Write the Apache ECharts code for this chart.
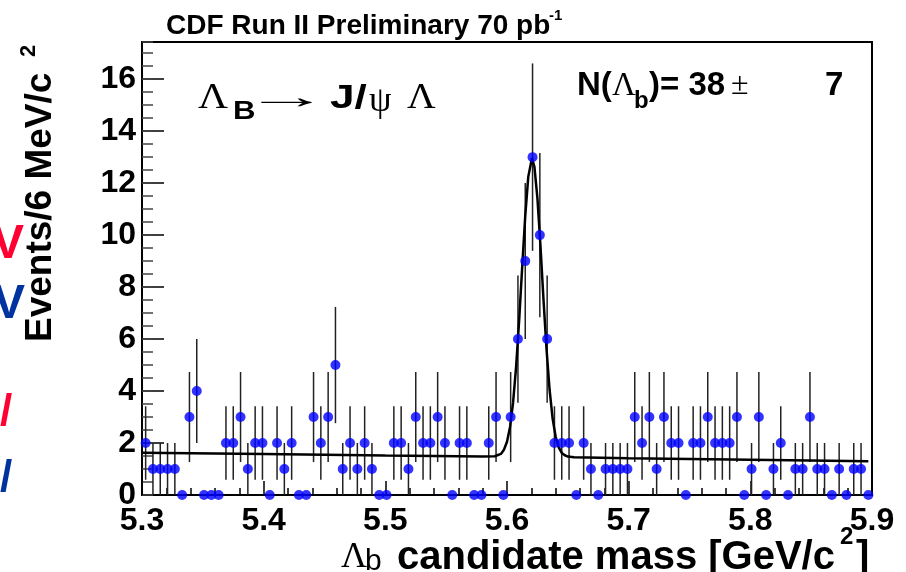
<!DOCTYPE html>
<html>
<head>
<meta charset="utf-8">
<script src="https://cdn.jsdelivr.net/npm/echarts@6/dist/echarts.min.js"></script>
<style>
  html, body { margin: 0; padding: 0; background: #fff; }
  #chart { width: 906px; height: 572px; }
</style>
</head>
<body>
<div id="chart"></div>
<script>
// histogram binning: 100 bins of 6 MeV between 5.3 and 5.9 GeV/c^2
const binLow = 5.3;
const binWidth = 0.006;

// events per bin
const counts = [
  2, 1, 1, 1, 1, 0, 3, 4, 0, 0,
  0, 2, 2, 3, 1, 2, 2, 0, 2, 1,
  2, 0, 0, 3, 2, 3, 5, 1, 2, 1,
  2, 1, 0, 0, 2, 2, 1, 3, 2, 2,
  3, 2, 0, 2, 2, 0, 0, 2, 3, 0,
  3, 6, 9, 13, 10, 6, 2, 2, 2, 0,
  2, 1, 0, 1, 1, 1, 1, 3, 2, 3,
  1, 3, 2, 2, 0, 2, 2, 3, 2, 2,
  2, 3, 0, 1, 3, 0, 1, 2, 0, 1,
  1, 3, 1, 1, 0, 1, 0, 1, 1, 0
];

// fit curve (gaussian + linear background)
const fitMass = [
  5.300, 5.400, 5.500, 5.580, 5.590, 5.595, 5.5975, 5.600, 5.6025, 5.605,
  5.6075, 5.610, 5.6125, 5.615, 5.6175, 5.6205, 5.6225, 5.625, 5.6275, 5.630,
  5.6325, 5.635, 5.6375, 5.640, 5.6425, 5.645, 5.6475, 5.650, 5.655, 5.700,
  5.800, 5.897
];
const fitEvents = [
  1.63, 1.575, 1.52, 1.48, 1.49, 1.58, 1.74, 2.05, 2.62, 3.56,
  4.94, 6.73, 8.78, 10.74, 12.25, 12.96, 12.64, 11.42, 9.59, 7.52,
  5.60, 4.05, 2.94, 2.24, 1.83, 1.62, 1.53, 1.48, 1.45, 1.41,
  1.355, 1.30
];

const yMax = 17.43;

const points = counts.map((c, i) => [+(binLow + binWidth * (i + 0.5)).toFixed(4), c]);
const fitLine = fitMass.map((m, i) => [m, fitEvents[i]]);

const chart = echarts.init(document.getElementById('chart'));

const boldSans = 'Liberation Sans, Arial, sans-serif';
const serif = 'Liberation Serif, Times New Roman, serif';

function txt(text, x, y, size, opts) {
  opts = opts || {};
  return {
    type: 'text',
    x: x, y: y,
    rotation: opts.rotation || 0,
    scaleX: opts.scaleX || 1,
    z: 10,
    style: {
      text: text,
      fontSize: size,
      fontFamily: opts.family || boldSans,
      fontWeight: opts.weight || 'bold',
      fill: opts.color || '#000',
      align: opts.align || 'left',
      verticalAlign: 'middle'
    }
  };
}

chart.setOption({
  animation: false,
  backgroundColor: '#fff',
  grid: {
    left: 142, right: 34, top: 42, bottom: 77,
    show: true, borderColor: '#000', borderWidth: 2, backgroundColor: 'transparent'
  },
  xAxis: [
    {
      type: 'value', min: 5.3, max: 5.9, interval: 0.1,
      axisLine: { show: true, lineStyle: { color: '#000', width: 2 } },
      axisTick: { show: true, inside: true, length: 14, lineStyle: { color: '#000', width: 1.5 } },
      axisLabel: {
        color: '#000', fontSize: 32, fontWeight: 'bold', fontFamily: boldSans, margin: 10,
        formatter: v => v.toFixed(1)
      },
      splitLine: { show: false }
    },
    {
      type: 'value', min: 5.3, max: 5.9, interval: 0.02, position: 'bottom',
      axisLine: { show: false },
      axisTick: { show: true, inside: true, length: 7, lineStyle: { color: '#000', width: 1.5 } },
      axisLabel: { show: false },
      splitLine: { show: false }
    }
  ],
  yAxis: [
    {
      type: 'value', min: 0, max: yMax, interval: 2,
      axisLine: { show: true, lineStyle: { color: '#000', width: 2 } },
      axisTick: { show: true, inside: true, length: 22, lineStyle: { color: '#000', width: 1.5 } },
      axisLabel: {
        color: '#000', fontSize: 32, fontWeight: 'bold', fontFamily: boldSans, margin: 6,
        showMaxLabel: false
      },
      splitLine: { show: false }
    },
    {
      type: 'value', min: 0, max: yMax, interval: 0.5, position: 'left',
      axisLine: { show: false },
      axisTick: { show: true, inside: true, length: 11, lineStyle: { color: '#444', width: 1.5 } },
      axisLabel: { show: false },
      splitLine: { show: false }
    }
  ],
  series: [
    {
      name: 'errors',
      type: 'custom',
      data: points,
      z: 2,
      renderItem: function (params, api) {
        const x = api.value(0), y = api.value(1);
        if (y <= 0) return null;
        const e = Math.sqrt(y);
        const p1 = api.coord([x, y - e]);
        const p2 = api.coord([x, y + e]);
        return {
          type: 'line',
          shape: { x1: p1[0], y1: p1[1], x2: p2[0], y2: p2[1] },
          style: { stroke: '#222', lineWidth: 1.5 }
        };
      }
    },
    {
      name: 'fit',
      type: 'line',
      data: fitLine,
      showSymbol: false,
      z: 3,
      lineStyle: { color: '#000', width: 2.5 }
    },
    {
      name: 'data',
      type: 'scatter',
      data: points,
      symbol: 'circle',
      symbolSize: 10,
      z: 4,
      itemStyle: { color: '#0000ff' }
    }
  ],
  graphic: [
    // title
    txt('CDF Run II Preliminary 70 pb', 166, 26, 28),
    txt('-1', 549, 16, 15),
    // decay label
    txt('\u039B', 198, 99, 36, { family: serif, weight: 'normal', scaleX: 1.15 }),
    txt('B', 233, 112, 26, { scaleX: 1.2 }),
    txt('\u2192', 244, 99, 34, { family: serif, weight: 'normal', scaleX: 2.5 }),
    txt('J/', 330, 99, 34, { scaleX: 1.3 }),
    txt('\u03C8', 369, 102, 36, { family: serif, weight: 'normal' }),
    txt('\u039B', 407, 99, 36, { family: serif, weight: 'normal', scaleX: 1.1 }),
    // signal yield
    txt('N(', 577, 86, 33),
    txt('\u039B', 612, 86, 33, { family: serif, weight: 'normal' }),
    txt('b', 634, 101, 24),
    txt(')= 38', 649, 86, 33),
    txt('\u00B1', 731, 86, 32, { family: serif, weight: 'normal' }),
    txt('7', 825, 86, 33),
    // y axis title
    txt('Events/6 MeV/c', 41, 342, 37, { rotation: Math.PI / 2 }),
    txt('2', 29, 57, 22, { rotation: Math.PI / 2 }),
    // x axis title
    txt('\u039B', 341, 558, 36, { family: serif, weight: 'normal' }),
    txt('b', 365, 562, 30, { weight: 'normal' }),
    txt('candidate mass [GeV/c', 397, 558, 40),
    txt('2', 840, 537, 24),
    txt(']', 856, 558, 40),
    // clipped slide fragments at the left edge
    txt('V', 24, 245, 48, { color: '#ff0033', align: 'right' }),
    txt('V', 25, 305, 48, { color: '#0033a0', align: 'right' }),
    txt('/', 0, 413, 44, { color: '#ff0033' }),
    txt('/', 0, 479, 44, { color: '#0033a0' })
  ]
});
</script>
</body>
</html>
